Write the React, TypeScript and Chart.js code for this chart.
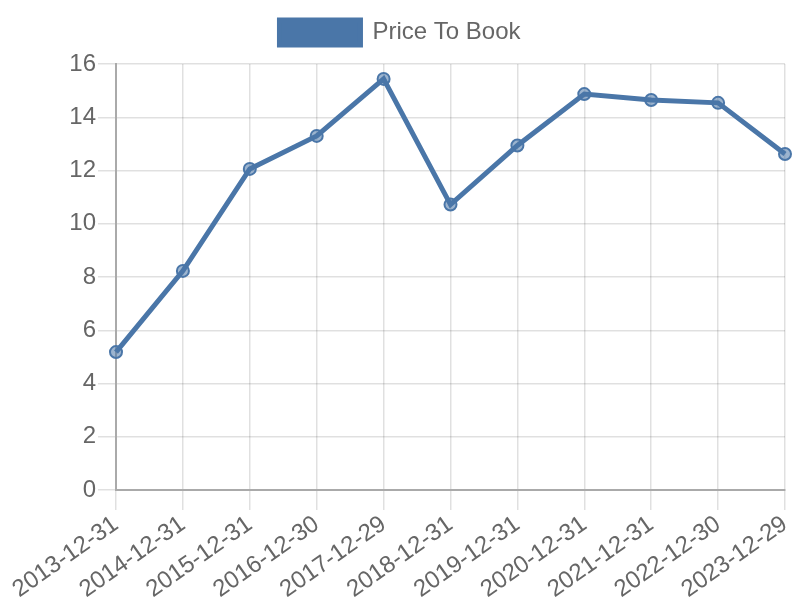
import React, { useEffect, useRef } from "react";
import { Chart, registerables } from "chart.js";

Chart.register(...registerables);

const categories = [
  "2013-12-31", "2014-12-31", "2015-12-31", "2016-12-30", "2017-12-29",
  "2018-12-31", "2019-12-31", "2020-12-31", "2021-12-31", "2022-12-30", "2023-12-29",
];
const priceToBook = [5.18, 8.23, 12.06, 13.3, 15.44, 10.72, 12.94, 14.87, 14.65, 14.54, 12.62];
const seriesLabel = "Price To Book";

const legendSpacer = {
  id: "legendSpacer",
  beforeInit(chart: any) {
    const legend = chart.legend;
    if (!legend) return;
    const origFit = legend.fit;
    legend.fit = function () {
      origFit.call(this);
      this.height = 64;
    };
  },
};

export default function App() {
  const ref = useRef<HTMLCanvasElement>(null);
  useEffect(() => {
    document.body.style.margin = "0";
    const ctx = ref.current!;
    Chart.defaults.font.family = "'Liberation Sans', Arial, sans-serif";
    Chart.defaults.color = "#666";
    const chart = new Chart(ctx, {
      type: "line",
      plugins: [legendSpacer],
      data: {
        labels: categories,
        datasets: [
          {
            label: seriesLabel,
            data: priceToBook,
            borderColor: "#4a76a8",
            backgroundColor: "#4a76a8",
            pointBackgroundColor: "rgba(74,118,168,0.55)",
            pointBorderColor: "#4a76a8",
            pointBorderWidth: 2,
            pointRadius: 6,
            borderWidth: 5,
            fill: false,
            tension: 0,
          },
        ],
      },
      options: {
        responsive: false,
        animation: false,
        maintainAspectRatio: false,
        plugins: {
          legend: {
            labels: { boxWidth: 81, boxHeight: 25, font: { size: 24 }, padding: 20 },
          },
          tooltip: { enabled: false },
        },
        scales: {
          x: {
            grid: { color: "rgba(0,0,0,0.12)", lineWidth: 1.5, tickLength: 20 },
            border: { color: "#aaa", width: 2 },
            ticks: { font: { size: 24 }, maxRotation: 35, minRotation: 35, color: "#666", padding: 0 },
            afterFit: (s: any) => {
              s.paddingLeft = 116;
              s.paddingRight = 15;
              s.height = 110;
            },
          },
          y: {
            min: 0,
            max: 16,
            grid: { color: "rgba(0,0,0,0.12)", lineWidth: 1.5, tickLength: 18 },
            border: { color: "#aaa", width: 2 },
            ticks: { font: { size: 24 }, stepSize: 2, color: "#666", padding: 2 },
          },
        },
      },
    });
    return () => chart.destroy();
  }, []);
  return <canvas ref={ref} width={800} height={600} style={{ display: "block" }} />;
}
